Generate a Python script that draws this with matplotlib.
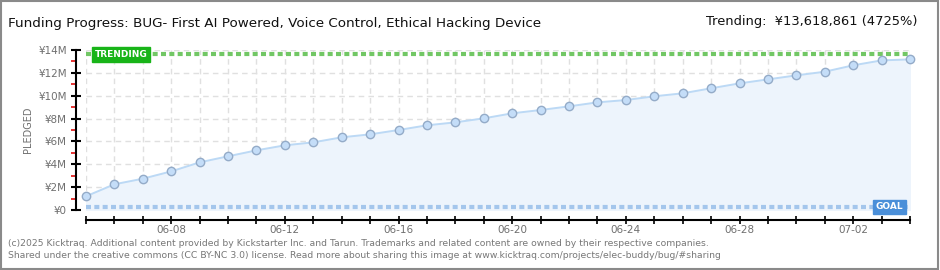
import matplotlib
matplotlib.use("Agg")
import matplotlib.pyplot as plt
import matplotlib.dates as mdates
from matplotlib.patches import Rectangle
import pandas as pd

dates = ["2025-06-05", "2025-06-06", "2025-06-07", "2025-06-08", "2025-06-09",
         "2025-06-10", "2025-06-11", "2025-06-12", "2025-06-13", "2025-06-14",
         "2025-06-15", "2025-06-16", "2025-06-17", "2025-06-18", "2025-06-19",
         "2025-06-20", "2025-06-21", "2025-06-22", "2025-06-23", "2025-06-24",
         "2025-06-25", "2025-06-26", "2025-06-27", "2025-06-28", "2025-06-29",
         "2025-06-30", "2025-07-01", "2025-07-02", "2025-07-03", "2025-07-04"]
pledged = [1.20, 2.25, 2.74, 3.38, 4.17, 4.70, 5.22, 5.66, 5.92, 6.36,
           6.62, 7.00, 7.41, 7.67, 8.02, 8.46, 8.75, 9.07, 9.42, 9.62,
           9.95, 10.21, 10.65, 11.08, 11.43, 11.78, 12.10, 12.66, 13.09, 13.18]  # millions of yen
labelled_dates = ["06-08", "06-12", "06-16", "06-20", "06-24", "06-28", "07-02"]
y_ticks = [0, 2, 4, 6, 8, 10, 12, 14]
y_labels = ["¥0", "¥2M", "¥4M", "¥6M", "¥8M", "¥10M", "¥12M", "¥14M"]
trending = 13.618861
goal = 0.288

FONT = ["DejaVu Sans"]
GRAY = "#6f6f6f"

x = pd.to_datetime(dates)
xn = mdates.date2num(x)

fig = plt.figure(figsize=(9.4, 2.7), dpi=100)
fig.patch.set_facecolor("white")
# outer frame
fig.add_artist(Rectangle((0.001, 0.002), 0.997, 0.995, transform=fig.transFigure,
                         fill=False, edgecolor="#8a8a8a", linewidth=1.5))

ax = fig.add_axes([86 / 940, 1 - 210 / 270, 824 / 940, 160 / 270])
ax.set_facecolor("white")

# grid
for v in y_ticks[1:]:
    ax.axhline(v, color="#e0e0e0", lw=1, dashes=(4, 3), zorder=1)
for d in xn:
    ax.axvline(d, color="#e0e0e0", lw=1, dashes=(4, 3), zorder=1)

# funding area and line
ax.fill_between(xn, pledged, 0, color="#edf4fc", zorder=2)
ax.plot(xn, pledged, color="#bcd9f5", lw=1.4, zorder=3)
ax.plot(xn, pledged, "o", ms=6, mfc="#c4ddf8", mec="#94abc8", mew=1,
        zorder=6, clip_on=False)

# trending and goal lines
ax.plot([xn[0], xn[-1]], [trending, trending], color="#72c765", lw=3,
        dashes=(1.2, 0.8), zorder=4, clip_on=False)
ax.plot([xn[0], xn[-1]], [goal, goal], color="#a4c6ec", lw=3,
        dashes=(1.2, 0.8), zorder=4, clip_on=False)

ax.text(xn[0] + 0.3, trending, "TRENDING", color="white", fontsize=6.5,
        fontweight="bold", ha="left", va="center", zorder=7, family=FONT,
        bbox=dict(boxstyle="square,pad=0.3", fc="#18b418", ec="#18b418"))
ax.text(xn[-1] - 0.25, goal, "GOAL", color="white", fontsize=6.5,
        fontweight="bold", ha="right", va="center", zorder=7, family=FONT,
        bbox=dict(boxstyle="square,pad=0.3", fc="#4a8fd9", ec="#4a8fd9"))

ax.set_xlim(xn[0], xn[-1])
ax.set_ylim(0, 14)

# axes styling (spine offsets are in points: 7.2pt = 10px)
for s in ["top", "right"]:
    ax.spines[s].set_visible(False)
ax.spines["left"].set_position(("outward", 7.2))
ax.spines["bottom"].set_position(("outward", 7.2))
ax.spines["left"].set_linewidth(1.5)
ax.spines["bottom"].set_linewidth(1.5)

ax.set_yticks(y_ticks)
ax.set_yticklabels(y_labels, fontsize=7.5, color=GRAY, family=FONT)
ax.set_yticks([1, 3, 5, 7, 9, 11, 13], minor=True)
ax.tick_params(axis="y", which="major", direction="inout", length=7, width=1.5, pad=3)
ax.tick_params(axis="y", which="minor", direction="out", length=3.5, width=1.2, color="#e01010")

tick_lbls = [mdates.num2date(d).strftime("%m-%d") for d in xn]
ax.set_xticks(xn)
ax.set_xticklabels([t if t in labelled_dates else "" for t in tick_lbls],
                   fontsize=7.5, color=GRAY, family=FONT)
ax.tick_params(axis="x", direction="inout", length=6, width=1.2, pad=0.5)

ax.set_ylabel("PLEDGED", fontsize=7, color=GRAY, labelpad=4, family=FONT)

# header
fig.text(8 / 940, 1 - 23 / 270, "Funding Progress: BUG- First AI Powered, Voice Control, Ethical Hacking Device",
         fontsize=9.7, color="#111111", ha="left", va="center", family=FONT)
fig.text(918 / 940, 1 - 22 / 270, "Trending:  ¥13,618,861 (4725%)",
         fontsize=9.4, color="#111111", ha="right", va="center", family=FONT)

# footer
fig.text(8 / 940, 1 - 243 / 270,
         "(c)2025 Kicktraq. Additional content provided by Kickstarter Inc. and Tarun. "
         "Trademarks and related content are owned by their respective companies.",
         fontsize=6.7, color="#777777", ha="left", va="center", family=FONT)
fig.text(8 / 940, 1 - 255 / 270,
         "Shared under the creative commons (CC BY-NC 3.0) license. Read more about sharing "
         "this image at www.kicktraq.com/projects/elec-buddy/bug/#sharing",
         fontsize=6.7, color="#777777", ha="left", va="center", family=FONT)

fig.savefig("out.png", dpi=100, facecolor="white")
